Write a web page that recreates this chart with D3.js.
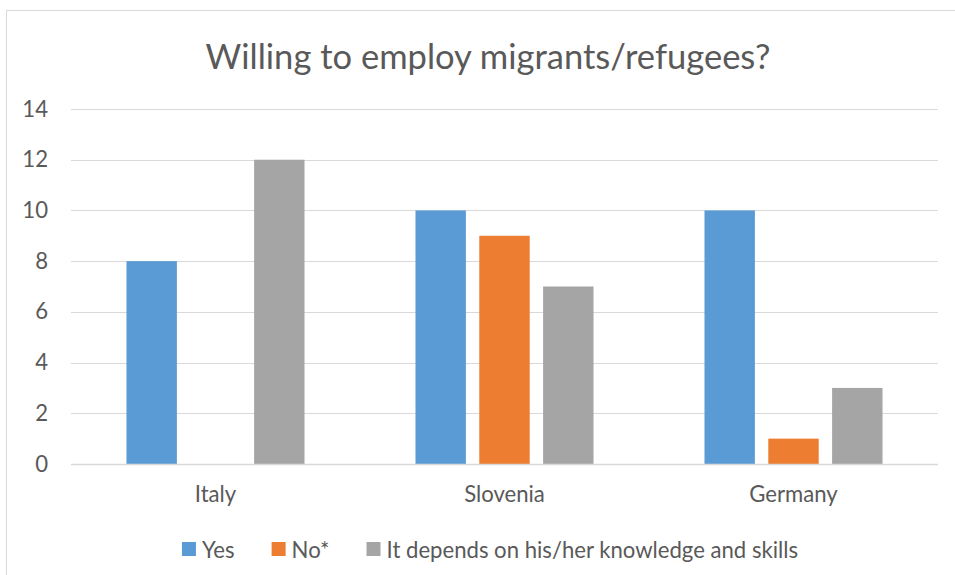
<!DOCTYPE html>
<html>
<head>
<meta charset="utf-8">
<script src="https://cdn.jsdelivr.net/npm/d3@7/dist/d3.min.js"></script>
<style>
  html, body { margin: 0; padding: 0; background: #fff; }
  svg { display: block; font-family: Lato, "Open Sans", sans-serif; }
</style>
</head>
<body>
<svg id="chart" width="955" height="575"></svg>
<script>
// Survey answers per country
const countries = ["Italy", "Slovenia", "Germany"];
const seriesNames = ["Yes", "No*", "It depends on his/her knowledge and skills"];
const yesValues = [8, 10, 10];
const noValues = [0, 9, 1];
const dependsValues = [12, 7, 3];
const yTicks = [0, 2, 4, 6, 8, 10, 12, 14];
const seriesColors = ["#5B9BD5", "#ED7D31", "#A5A5A5"];
const titleText = "Willing to employ migrants/refugees?";

const seriesValues = [yesValues, noValues, dependsValues];

const svg = d3.select("#chart");
const W = 955, H = 575;
const plot = { left: 71, right: 938, top: 109, bottom: 464 };
const centerX = 488;
const textColor = "#595959";

// Fit a text element's font size so its rendered width hits a target
function fitSize(sel, target, start) {
  sel.style("font-size", start + "px");
  const w = sel.node().getComputedTextLength();
  sel.style("font-size", (start * target / w) + "px");
  return start * target / w;
}

// Chart frame
svg.append("rect")
  .attr("x", 6.5).attr("y", 10.5)
  .attr("width", 980).attr("height", 600)
  .attr("fill", "#fff")
  .attr("stroke", "#D9D9D9").attr("stroke-width", 1);

// Title
const title = svg.append("text")
  .attr("x", centerX).attr("y", 55)
  .attr("text-anchor", "middle")
  .attr("dominant-baseline", "central")
  .attr("fill", textColor)
  .text(titleText);
fitSize(title, 565, 28);

const y = d3.scaleLinear().domain([0, 14]).range([plot.bottom, plot.top]);
const x0 = d3.scaleBand().domain(countries).range([plot.left, plot.right])
  .paddingInner(0.384).paddingOuter(0.192);
const x1 = d3.scaleBand().domain(d3.range(seriesNames.length))
  .range([0, x0.bandwidth()]).paddingInner(0.21).paddingOuter(0);

// Gridlines
svg.append("g").selectAll("line").data(yTicks).join("line")
  .attr("x1", plot.left).attr("x2", plot.right)
  .attr("y1", d => Math.round(y(d)) + 0.5).attr("y2", d => Math.round(y(d)) + 0.5)
  .attr("stroke", "#D9D9D9").attr("stroke-width", 1.2);

// Y axis labels
const yAxis = svg.append("g")
  .attr("transform", `translate(${plot.left - 23},0)`)
  .call(d3.axisLeft(y).tickValues(yTicks).tickSize(0).tickPadding(0));
yAxis.select(".domain").remove();
yAxis.selectAll("text")
  .attr("fill", textColor)
  .style("font-family", "Lato, 'Open Sans', sans-serif")
  .style("font-size", "16.5px");

// Bars
const groups = svg.append("g").selectAll("g").data(countries).join("g")
  .attr("transform", d => `translate(${x0(d)},0)`);
groups.selectAll("rect")
  .data((c, ci) => seriesValues.map((vals, si) => ({ si, v: vals[ci] })))
  .join("rect")
  .attr("x", d => x1(d.si))
  .attr("width", x1.bandwidth())
  .attr("y", d => y(d.v))
  .attr("height", d => y(0) - y(d.v))
  .attr("fill", d => seriesColors[d.si]);

// Baseline over the bars
svg.append("line")
  .attr("x1", plot.left).attr("x2", plot.right)
  .attr("y1", Math.round(y(0)) + 0.5).attr("y2", Math.round(y(0)) + 0.5)
  .attr("stroke", "#D9D9D9").attr("stroke-width", 1.5);

// Category axis labels
const xAxis = svg.append("g")
  .attr("transform", `translate(0,${plot.bottom})`)
  .call(d3.axisBottom(x0).tickSize(0).tickPadding(22));
xAxis.select(".domain").remove();
xAxis.selectAll("text")
  .attr("fill", textColor)
  .style("font-family", "Lato, 'Open Sans', sans-serif")
  .style("font-size", "16.5px");

// Legend
const legend = svg.append("g");
const legendY = 549;
const sw = 14, swGap = 6, itemGap = 37;
const items = legend.selectAll("g").data(seriesNames).join("g");
items.append("rect")
  .attr("width", sw).attr("height", sw)
  .attr("y", legendY - sw / 2)
  .attr("fill", (d, i) => seriesColors[i]);
const labels = items.append("text")
  .attr("x", sw + swGap)
  .attr("y", legendY)
  .attr("dominant-baseline", "central")
  .attr("fill", textColor)
  .style("font-size", "16.5px")
  .text(d => d);
// fit the long label width, apply same size to all
const lastLabel = labels.filter((d, i) => i === seriesNames.length - 1);
const legendSize = fitSize(lastLabel, 412, 16.5);
labels.style("font-size", legendSize + "px");
yAxis.selectAll("text").style("font-size", legendSize + "px");
xAxis.selectAll("text").style("font-size", legendSize + "px");

const widths = labels.nodes().map(n => sw + swGap + n.getComputedTextLength());
const total = d3.sum(widths) + itemGap * (widths.length - 1);
let cx = centerX - total / 2 + 2;
items.attr("transform", (d, i) => {
  const t = `translate(${cx},0)`;
  cx += widths[i] + itemGap;
  return t;
});
</script>
</body>
</html>
